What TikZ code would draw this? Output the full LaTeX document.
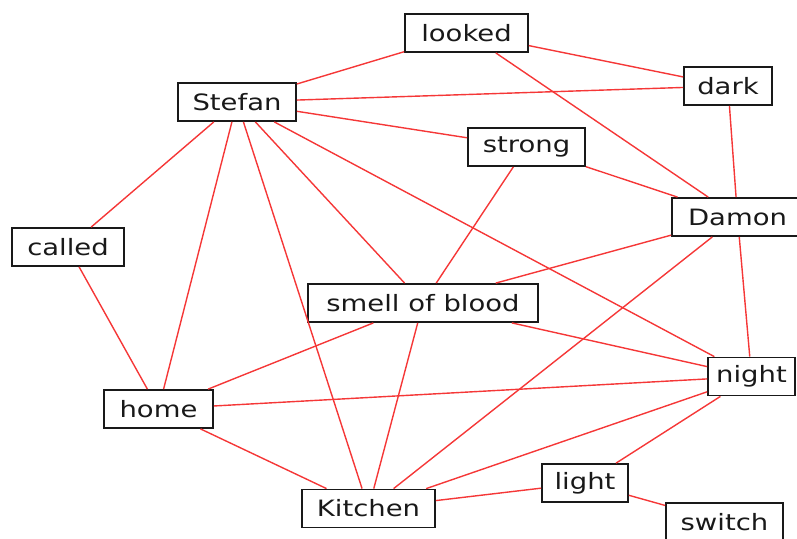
\documentclass[tikz,border=0pt]{standalone}
\usepackage{fontspec}
\setmainfont[FakeStretch=1.22]{DejaVu Sans}
\definecolor{edgered}{RGB}{245,55,55}
\definecolor{boxline}{RGB}{25,25,25}
\begin{document}
\begin{tikzpicture}[x=1pt,y=-1pt,
  word/.style={draw=boxline,line width=1.8pt,fill=white,inner sep=0pt,
    minimum height=38pt,text=boxline,font=\fontsize{22.5}{26}\selectfont},
  link/.style={draw=edgered,line width=1.4pt}]
\useasboundingbox (0,0) rectangle (797,538);
\clip (0,0) rectangle (797,538);
\node[word,minimum width=123pt] (looked) at (466.5,33) {looked};
\node[word,minimum width=118pt] (stefan) at (237,102) {Stefan};
\node[word,minimum width=88pt] (dark) at (728,86) {dark};
\node[word,minimum width=117pt] (strong) at (526.5,147) {strong};
\node[word,minimum width=131pt] (damon) at (737.5,217) {Damon};
\node[word,minimum width=112pt] (called) at (68,247) {called};
\node[word,minimum width=230pt] (smell) at (423,303) {smell of blood};
\node[word,minimum width=87pt] (night) at (751.5,376.5) {night};
\node[word,minimum width=109pt] (home) at (158.5,409) {home};
\node[word,minimum width=86pt] (light) at (585,483) {light};
\node[word,minimum width=133pt] (kitchen) at (368.5,508.5) {Kitchen};
\node[word,minimum width=117pt] (switch) at (724.5,522) {switch};
\draw[link] (stefan) -- (looked);
\draw[link] (stefan) -- (dark);
\draw[link] (stefan) -- (strong);
\draw[link] (stefan) -- (called);
\draw[link] (stefan) -- (home);
\draw[link] (stefan) -- (kitchen);
\draw[link] (stefan) -- (smell);
\draw[link] (stefan) -- (night);
\draw[link] (looked) -- (dark);
\draw[link] (looked) -- (damon);
\draw[link] (strong) -- (damon);
\draw[link] (strong) -- (smell);
\draw[link] (dark) -- (damon);
\draw[link] (damon) -- (smell);
\draw[link] (damon) -- (kitchen);
\draw[link] (damon) -- (night);
\draw[link] (smell) -- (home);
\draw[link] (smell) -- (night);
\draw[link] (smell) -- (kitchen);
\draw[link] (home) -- (night);
\draw[link] (home) -- (kitchen);
\draw[link] (home) -- (called);
\draw[link] (kitchen) -- (night);
\draw[link] (kitchen) -- (light);
\draw[link] (light) -- (night);
\draw[link] (light) -- (switch);
\end{tikzpicture}
\end{document}
